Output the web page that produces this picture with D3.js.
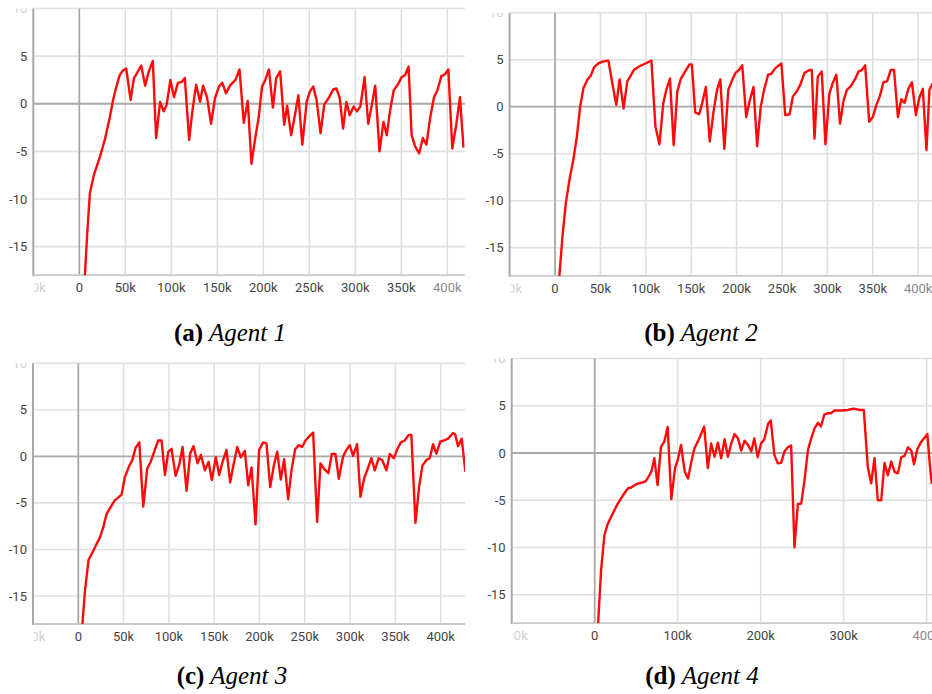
<!DOCTYPE html>
<html>
<head>
<meta charset="utf-8">
<script src="https://cdn.jsdelivr.net/npm/d3@7"></script>
<style>
  html, body { margin: 0; padding: 0; background: #fff; }
  svg { display: block; }
</style>
</head>
<body>
<svg id="chart" width="932" height="694"></svg>
<script>
// Episode reward per training step (steps in thousands) for each agent.
const agent1Steps = [4, 6.1, 8.6, 11.5, 15.8, 22.3, 27.7, 33, 36.7, 40.3, 43.9, 47.5, 51, 55.8, 59.4, 62.6, 67.3, 71.6, 75.2, 79.9, 83.5, 87.8, 91.7, 95, 99, 102.9, 107.2, 111.5, 114.7, 119.4, 123, 127, 131.3, 134.5, 138.8, 143.2, 147.5, 151.8, 155.4, 159.4, 163.7, 169.8, 174.1, 178.8, 183.1, 187.1, 191.4, 195, 198.6, 202.2, 206.1, 210.4, 214, 218.3, 222.7, 225.9, 230.2, 233.8, 238.1, 242.4, 247.1, 250.7, 254.3, 257.9, 262.2, 266.2, 271.6, 275.9, 279.5, 283.1, 286.7, 290.3, 293.9, 298.2, 301.8, 305.4, 310.1, 314, 317.6, 321.6, 326.3, 330.6, 334.2, 337.8, 341.7, 346, 350.4, 354, 357.9, 361.2, 365.1, 369.4, 373.4, 377.3, 381.3, 385.6, 389.2, 393.5, 397.5, 401.1, 405.4, 409.7, 413.7, 417.6];
const agent1Reward = [-22, -18, -13.6, -9.4, -7.5, -5.6, -3.8, -1.5, 0.4, 1.8, 3.0, 3.5, 3.7, 0.4, 2.7, 3.2, 4.0, 1.9, 3.3, 4.5, -3.6, 0.2, -0.8, -0.1, 2.5, 0.7, 2.2, 2.3, 2.7, -3.8, -0.7, 2.0, 0.2, 1.9, 0.7, -2.1, 0.6, 1.8, 2.2, 1.1, 1.9, 2.5, 3.6, -2.0, 0.3, -6.3, -3.5, -1.4, 1.8, 2.5, 3.6, -0.4, 2.7, 3.4, -2.2, -0.2, -3.3, -1.5, 0.9, -4.3, 0.2, 1.3, 1.8, 0.4, -3.1, -0.1, 0.7, 1.5, 1.6, 0.6, -2.6, 0.2, -1.2, -0.3, -0.8, -0.3, 2.8, -2.1, -0.3, 1.9, -5.0, -1.9, -3.3, -0.7, 1.4, 2.0, 2.8, 3.0, 3.9, -3.3, -4.5, -5.2, -3.6, -4.3, -1.5, 0.7, 1.4, 2.9, 3.1, 3.6, -4.7, -2.2, 0.7, -4.6];

const agent2Steps = [3, 4.7, 8.4, 12, 16.4, 20.1, 24.1, 27.7, 31.4, 35.8, 39.4, 43.1, 47.8, 52.2, 58.8, 63.1, 67.5, 71.2, 75.5, 79.6, 86.9, 93.1, 99.6, 106.2, 110.6, 115, 119.3, 122.6, 126.6, 130.7, 134.7, 138.3, 143.4, 148.2, 150.7, 154.4, 158.8, 162.4, 166.1, 170.4, 174.8, 178.5, 182.1, 186.5, 190.9, 194.5, 198.9, 202.6, 206.2, 210.6, 214.6, 218.6, 222.6, 226.6, 230.3, 234.7, 238.3, 242.7, 249.3, 253.6, 258.4, 262, 266.8, 270.4, 274.8, 280.3, 282.8, 285.8, 289.4, 293.8, 297.8, 302.2, 305.8, 309.9, 313.9, 317.9, 321.5, 325.9, 330.3, 334.3, 338, 341.6, 346, 350, 354, 357.7, 361.7, 365.7, 369.7, 373.4, 377.7, 381.4, 385, 389.1, 393.1, 397.4, 401.1, 405.1, 409.1, 412.4, 416];
const agent2Reward = [-23, -18.1, -13.6, -10.2, -7.5, -5.7, -3.2, 0, 2.0, 2.9, 3.3, 4.2, 4.6, 4.8, 4.9, 2.5, 0.2, 2.9, -0.2, 2.7, 3.9, 4.3, 4.6, 4.9, -2.1, -4.0, 0.4, 1.8, 3.0, -4.1, 1.6, 2.9, 3.75, 4.5, 4.5, -0.6, -0.8, 0.5, 2.1, -3.7, -0.4, 1.8, 2.9, -4.5, 1.8, 2.7, 3.6, 3.9, 4.4, -1.1, 0.7, 2.1, -4.2, 0, 1.8, 3.4, 3.5, 4.1, 4.6, -0.9, -0.8, 1.1, 1.7, 2.4, 3.6, 3.9, 3.9, -3.4, 3.2, 3.75, -4.0, 1.4, 2.5, 3.4, -1.8, 0.7, 1.8, 2.2, 2.9, 3.75, 3.9, 4.4, -1.6, -1.1, 0.2, 1.1, 2.6, 2.7, 3.9, 3.9, -1.1, 0.8, 0.4, 1.9, 2.6, -0.9, 0.9, 1.9, -4.6, 1.8, 2.5];

const agent3Steps = [2.5, 4.4, 7.4, 11.4, 15.8, 20.2, 23.9, 27.6, 31.2, 36, 40.4, 44.9, 47.8, 51.5, 55.9, 59.6, 63.2, 67.3, 71.7, 76.1, 79.8, 83.8, 88.2, 91.9, 95.6, 99.3, 102.9, 107.4, 111.4, 115.1, 119.5, 123.5, 127.2, 131.6, 135.3, 139.7, 143.8, 147.4, 151.8, 155.5, 159.2, 163.6, 167.6, 171.3, 175.4, 179.4, 183.8, 187.5, 191.2, 195.6, 199.6, 204, 207.7, 211.8, 215.8, 219.5, 223.5, 227.2, 231.6, 235.3, 239.3, 243.4, 247.1, 250.7, 255.5, 259.2, 263.6, 267.3, 271.7, 276.1, 279.8, 283.8, 287.5, 292.3, 296, 299.6, 303.3, 307.7, 311.4, 315.4, 319.9, 323.5, 327.2, 331.6, 335.3, 340.1, 343.8, 348.2, 351.8, 355.9, 360.3, 364.7, 367.6, 372.1, 376.1, 379.8, 384.2, 387.9, 391.5, 395.2, 399.6, 403.7, 408.1, 413.6, 415.8, 419.1, 423.2, 427.2];
const agent3Reward = [-23, -18.2, -14.4, -11.1, -10.3, -9.4, -8.7, -7.6, -6.2, -5.4, -4.7, -4.35, -4.1, -2.2, -1.1, -0.4, 0.9, 1.5, -5.4, -1.3, -0.6, 0.5, 1.7, 1.7, -2.0, 0.5, 0.8, -2.1, -0.9, 1.0, -3.7, 0.3, 1.1, -0.75, 0.15, -1.5, -0.6, -2.55, -0.1, -2.0, -0.6, 0.7, -2.8, -0.9, 1.0, -0.1, 0.6, -3.1, -1.2, -7.3, 0.7, 1.5, 1.4, -3.3, -1.0, 0.5, -2.5, -0.3, -4.6, -1.5, 0.75, 1.2, 1.0, 1.7, 2.2, 2.55, -7.05, -0.75, -1.4, -1.8, 0.25, 0.25, -2.4, 0, 0.7, 1.2, 0.05, 1.3, -4.35, -2.4, -1.2, -0.2, -1.5, -0.2, -0.4, -1.5, 0.25, -0.2, 0.7, 1.5, 1.7, 2.3, 2.3, -7.15, -3.3, -1.0, -0.4, -0.2, 1.3, 0.3, 1.6, 1.7, 1.9, 2.5, 2.4, 1.1, 1.9, -1.65];

const agent4Steps = [2, 4, 7.7, 11.7, 15.7, 21.8, 27.8, 33.9, 39.9, 44, 50, 56, 61.3, 66.1, 68.5, 71.8, 75.8, 79.8, 83.9, 87.9, 92.3, 96.8, 100, 104, 108.5, 112.5, 116.5, 120.2, 124.2, 128.6, 131.9, 136.3, 140.3, 144.4, 148.4, 152.4, 156.5, 160.5, 164.5, 168.5, 172.6, 176.6, 180.6, 184.7, 188.7, 192.3, 196.4, 200.4, 204.4, 208.9, 212.1, 216.5, 220.6, 224.6, 228.6, 232.7, 236.7, 240.7, 244.8, 248.8, 252.8, 256.9, 260.9, 264.9, 269, 272.6, 276.6, 280.6, 284.7, 288.7, 296.8, 304.8, 312.1, 319.4, 324.2, 329, 333.1, 337.1, 341.1, 345.2, 349.2, 353.2, 357.3, 361.3, 365.3, 369.4, 373.4, 377.4, 381.5, 384.7, 388.7, 393.5, 397.6, 400.8, 404, 406, 408, 410];
const agent4Reward = [-23, -18.2, -12.4, -8.7, -7.5, -6.4, -5.35, -4.5, -3.75, -3.65, -3.3, -3.15, -3.0, -2.35, -1.9, -0.55, -3.4, 0.65, 1.2, 2.75, -4.9, -1.6, -0.75, 0.85, -2.0, -2.7, -0.9, 0.5, 1.2, 2.1, 2.8, -1.6, 1.0, -0.4, 1.1, -0.55, 1.45, -0.4, 1.0, 2.0, 1.55, 0.25, 1.3, 0.85, 0.15, 1.55, -0.45, 1.0, 1.45, 3.1, 3.45, -0.2, -1.1, -1.05, 0.15, 0.6, 0.8, -10.0, -5.4, -5.35, -2.9, 0.3, 1.55, 2.6, 3.2, 2.8, 4.05, 4.2, 4.2, 4.5, 4.5, 4.55, 4.7, 4.55, 4.55, -1.45, -3.2, -0.55, -5.0, -5.0, -1.05, -2.35, -0.9, -2.0, -2.15, -0.45, -0.3, 0.6, 0.25, -1.2, 0.4, 1.2, 1.65, 2.0, -1.45, -3.15, -2.3, -1.8];

const yTicks = [-15, -10, -5, 0, 5, 10];
const yDomain = [-18, 10];
const captionTags = ["(a)", "(b)", "(c)", "(d)"];
const captionNames = ["Agent 1", "Agent 2", "Agent 3", "Agent 4"];

const svg = d3.select("#chart");

const panels = [
  { steps: agent1Steps, reward: agent1Reward, xDomain: [-50, 419], xStep: 50,
    left: 33.3, right: 464.8, top: 8.5, bottom: 275.2, capX: 230, capY: 341 },
  { steps: agent2Steps, reward: agent2Reward, xDomain: [-50, 415.2], xStep: 50,
    left: 509.6, right: 932, top: 12.7, bottom: 275.9, capX: 701, capY: 341 },
  { steps: agent3Steps, reward: agent3Reward, xDomain: [-50, 426.8], xStep: 50,
    left: 33, right: 465, top: 363.2, bottom: 624, capX: 232, capY: 684 },
  { steps: agent4Steps, reward: agent4Reward, xDomain: [-100, 406.4], xStep: 100,
    left: 511.7, right: 932, top: 358.5, bottom: 623.1, capX: 702, capY: 684 }
];

const fmtStep = d => d === 0 ? "0" : d + "k";

panels.forEach((p, i) => {
  const g = svg.append("g");
  const x = d3.scaleLinear().domain(p.xDomain).range([p.left, p.right]);
  const y = d3.scaleLinear().domain(yDomain).range([p.bottom, p.top]);
  const xTicks = d3.range(p.xDomain[0], p.xDomain[1] + 0.001, p.xStep);

  const clipId = "plot-clip-" + i;
  const labelClipId = "label-clip-" + i;
  const defs = g.append("defs");
  defs.append("clipPath").attr("id", clipId).append("rect")
    .attr("x", p.left).attr("y", p.top)
    .attr("width", p.right - p.left).attr("height", p.bottom - p.top);
  defs.append("clipPath").attr("id", labelClipId).append("rect")
    .attr("x", p.left - 60).attr("y", p.top)
    .attr("width", p.right - p.left + 120).attr("height", p.bottom - p.top + 40);

  // grid lines
  g.append("g").selectAll("line.h").data(yTicks.filter(t => t !== 0)).join("line")
    .attr("x1", p.left).attr("x2", p.right)
    .attr("y1", d => y(d)).attr("y2", d => y(d))
    .attr("stroke", "#e0e0e0").attr("stroke-width", 1.6);
  g.append("g").selectAll("line.v").data(xTicks.filter(t => t > p.xDomain[0] && t !== 0)).join("line")
    .attr("x1", d => x(d)).attr("x2", d => x(d))
    .attr("y1", p.top).attr("y2", p.bottom)
    .attr("stroke", "#e0e0e0").attr("stroke-width", 1.6);

  // zero lines
  g.append("line").attr("x1", p.left).attr("x2", p.right)
    .attr("y1", y(0)).attr("y2", y(0))
    .attr("stroke", "#a8a8a8").attr("stroke-width", 1.8);
  g.append("line").attr("x1", x(0)).attr("x2", x(0))
    .attr("y1", p.top).attr("y2", p.bottom)
    .attr("stroke", "#a8a8a8").attr("stroke-width", 1.8);

  // axes frame (left and bottom)
  g.append("line").attr("x1", p.left).attr("x2", p.left)
    .attr("y1", p.top).attr("y2", p.bottom + 1)
    .attr("stroke", "#a8a8a8").attr("stroke-width", 2);
  g.append("line").attr("x1", p.left).attr("x2", p.right)
    .attr("y1", p.bottom).attr("y2", p.bottom)
    .attr("stroke", "#c8c8c8").attr("stroke-width", 1.8);

  // tick labels
  const labels = g.append("g").attr("clip-path", `url(#${labelClipId})`)
    .style("font-family", "Roboto, sans-serif").style("font-size", "13px");
  labels.selectAll("text.y").data(yTicks).join("text")
    .attr("x", p.left - 6).attr("y", d => y(d)).attr("dy", "0.35em")
    .attr("text-anchor", "end")
    .attr("fill", d => d === 10 ? "#cfcfcf" : "#444")
    .text(d => d);

  const xLabels = g.append("g")
    .style("font-family", "Roboto, sans-serif").style("font-size", "13px");
  const xLabelClip = `xlabel-clip-${i}`;
  defs.append("clipPath").attr("id", xLabelClip).append("rect")
    .attr("x", p.left + 1).attr("y", p.bottom)
    .attr("width", 1000).attr("height", 40);
  xLabels.attr("clip-path", `url(#${xLabelClip})`);
  xLabels.selectAll("text").data(xTicks).join("text")
    .attr("x", d => x(d)).attr("y", p.bottom + 17)
    .attr("text-anchor", "middle")
    .attr("fill", d => d === p.xDomain[0] ? "#d0d0d0" : (p.right - x(d) < 24 ? "#8a8a8a" : "#444"))
    .text(fmtStep);

  // reward curve
  const line = d3.line().x(d => x(d[0])).y(d => y(d[1]));
  const pts = p.steps.map((s, k) => [s, p.reward[k]]);
  g.append("path")
    .attr("clip-path", `url(#${clipId})`)
    .attr("d", line(pts))
    .attr("fill", "none").attr("stroke", "#ff0a0a")
    .attr("stroke-width", 2.4).attr("stroke-linejoin", "round");

  // caption
  const cap = g.append("text")
    .attr("x", p.capX).attr("y", p.capY).attr("text-anchor", "middle")
    .style("font-family", "'Liberation Serif', 'Times New Roman', serif")
    .style("font-size", "25px").attr("fill", "#000");
  cap.append("tspan").attr("font-weight", "bold").text(captionTags[i]);
  cap.append("tspan").attr("font-style", "italic").text(" " + captionNames[i]);
});
</script>
</body>
</html>
